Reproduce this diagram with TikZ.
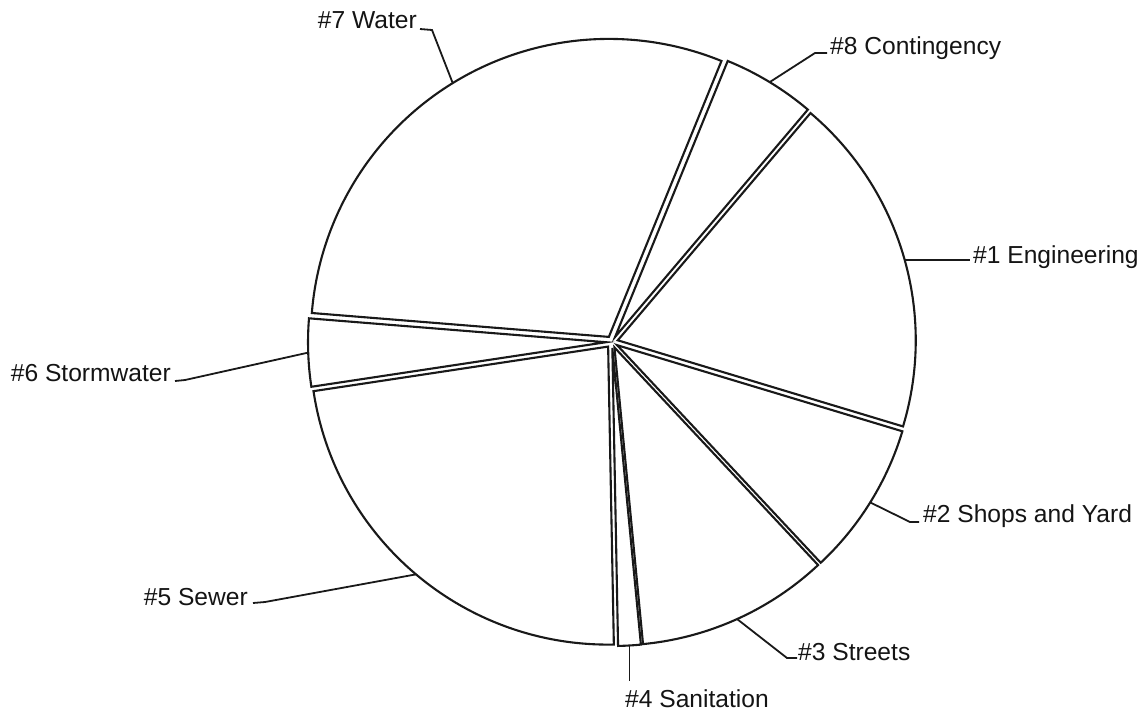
\documentclass[tikz,border=0pt]{standalone}
\usepackage{fontspec}
\setmainfont{Liberation Sans}
\begin{document}
\begin{tikzpicture}[x=1pt,y=1pt,
  slice/.style={draw=black!90, line width=2.1pt, line join=miter, fill=white},
  lead/.style={draw=black!90, line width=1.8pt},
  lbl/.style={inner sep=0pt, font=\fontsize{24.6}{28}\selectfont, text=black!92}]
\useasboundingbox (0,0) rectangle (1143,-713);
\coordinate (C) at (612,-342);
\def\pieR{298pt}
\def\expl{6pt}
\newcommand\pieslice[3]{%
  \pgfmathsetmacro\midang{(#2+#3)/2}%
  \path (C) ++(\midang:\expl) coordinate (#1);
  \draw[slice] (#1) -- ++(#2:\pieR) arc[start angle=#2, end angle=#3, radius=\pieR] -- cycle;
  \path (#1) ++(\midang:\pieR) coordinate (#1m);
}
\pieslice{s1}{-16.8}{49.7}
\pieslice{s8}{49.7}{67.8}
\pieslice{s7}{67.8}{175.4}
\pieslice{s6}{175.4}{188.6}
\pieslice{s5}{188.6}{271.1}
\pieslice{s4}{271.1}{275.5}
\pieslice{s3}{275.5}{313.1}
\pieslice{s2}{313.1}{343.2}
\path (s1) ++(15.7:\pieR) coordinate (s1a);

% labels
\node[lbl, anchor=base east] (l7) at (417,-28) {\#7 Water};
\node[lbl, anchor=base west] (l8) at (830,-54) {\#8 Contingency};
\node[lbl, anchor=base west] (l1) at (973,-263) {\#1 Engineering};
\node[lbl, anchor=base west] (l2) at (923,-522) {\#2 Shops and Yard};
\node[lbl, anchor=base west] (l3) at (798,-660) {\#3 Streets};
\node[lbl, anchor=base west] (l4) at (625,-707) {\#4 Sanitation};
\node[lbl, anchor=base east] (l5) at (248,-605) {\#5 Sewer};
\node[lbl, anchor=base east] (l6) at (171,-381) {\#6 Stormwater};

% elbows
\coordinate (e7) at (432,-30);
\coordinate (e8) at (815,-53);
\coordinate (e2) at (910,-522);
\coordinate (e3) at (787,-658);
\coordinate (e5) at (265,-602);
\coordinate (e6) at (185,-380);

% leaders
\draw[lead] (s7m) -- (e7) -- ([xshift=3pt,yshift=-1pt]l7.base east);
\draw[lead] (s8m) -- (e8) -- ([xshift=-3pt,yshift=1pt]l8.base west);
\draw[lead] (s1a) -- ([xshift=-3pt]l1.base west |- s1a);
\draw[lead] (s2m) -- (e2) -- ([xshift=-4pt]l2.base west);
\draw[lead] (s3m) -- (e3) -- ([xshift=-1pt,yshift=2pt]l3.base west);
\draw[lead] (s4m) -- ([yshift=8pt]s4m |- l4.north);
\draw[lead] (s5m) -- (e5) -- ([xshift=5pt,yshift=2pt]l5.base east);
\draw[lead] (s6m) -- (e6) -- ([xshift=4pt]l6.base east);
\end{tikzpicture}
\end{document}
